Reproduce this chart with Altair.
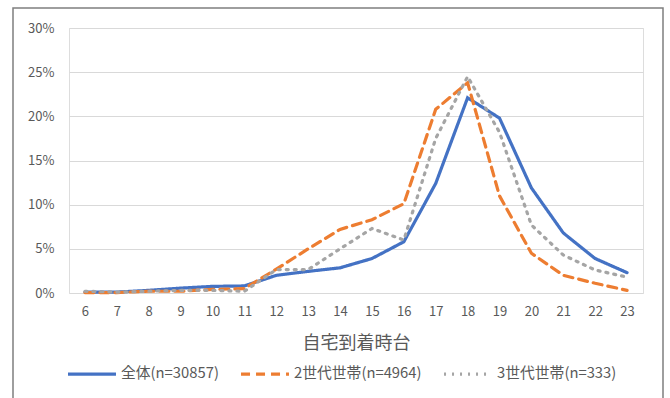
import altair as alt
import pandas as pd

hours = [6, 7, 8, 9, 10, 11, 12, 13, 14, 15, 16, 17, 18, 19, 20, 21, 22, 23]
series_names = ["全体(n=30857)", "2世代世帯(n=4964)", "3世代世帯(n=333)"]
all_households = [0.1, 0.1, 0.3, 0.55, 0.75, 0.8, 2.0, 2.45, 2.85, 3.9, 5.8, 12.4, 22.1, 19.8, 11.9, 6.8, 3.9, 2.3]
two_gen = [0.05, 0.05, 0.2, 0.2, 0.4, 0.5, 2.7, 5.0, 7.2, 8.3, 10.1, 20.8, 23.8, 11.0, 4.5, 2.0, 1.1, 0.3]
three_gen = [0.2, 0.1, 0.2, 0.3, 0.3, 0.2, 2.65, 2.65, 5.0, 7.3, 6.0, 17.5, 24.5, 18.2, 7.7, 4.3, 2.6, 1.8]
colors = ["#4472C4", "#ED7D31", "#A5A5A5"]
dashes = [[1, 0], [9, 6], [2, 6]]

rows = []
for name, vals in zip(series_names, [all_households, two_gen, three_gen]):
    for h, v in zip(hours, vals):
        rows.append({"hour": h, "value": v / 100.0, "series": name})
df = pd.DataFrame(rows)

font = "Noto Sans CJK JP"

lines = alt.Chart(df).mark_line(strokeWidth=3.2, strokeCap="round", clip=False).encode(
    x=alt.X("hour:O", title="自宅到着時台",
            scale=alt.Scale(type="point", padding=0.5),
            axis=alt.Axis(labelAngle=0, ticks=False, domain=False, grid=False,
                          labelPadding=12, titlePadding=16, labelFontSize=13,
                          titleFontSize=18, titleFontWeight="normal",
                          labelColor="#595959", titleColor="#595959",
                          labelFont=font, titleFont=font)),
    y=alt.Y("value:Q", title=None,
            scale=alt.Scale(domain=[0, 0.30], nice=False),
            axis=alt.Axis(format=".0%", values=[0, 0.05, 0.10, 0.15, 0.20, 0.25, 0.30],
                          ticks=False, domain=False, grid=True, gridColor="#D9D9D9",
                          gridWidth=1, labelPadding=15, labelFontSize=13,
                          labelColor="#595959", labelFont=font)),
    color=alt.Color("series:N", sort=series_names,
                    scale=alt.Scale(domain=series_names, range=colors),
                    legend=alt.Legend(title=None, orient="none", direction="horizontal",
                                      legendX=-3, legendY=320,
                                      symbolType="stroke", symbolSize=2300,
                                      symbolStrokeWidth=3.2, labelFontSize=14.8,
                                      labelColor="#595959", labelFont=font,
                                      columnPadding=15, labelOffset=3)),
    strokeDash=alt.StrokeDash("series:N", sort=series_names,
                              scale=alt.Scale(domain=series_names, range=dashes),
                              legend=None),
    order=alt.Order("hour:Q"),
)

frame_df = pd.DataFrame({"k": [0]})
frame = alt.Chart(frame_df).mark_rect(fill=None, stroke="#7F7F7F", strokeWidth=1.5, clip=False).encode(
    x=alt.value(-56), x2=alt.value(594), y=alt.value(-20), y2=alt.value(380)
)

chart = alt.layer(frame, lines).properties(
    width=574, height=265,
    autosize=alt.AutoSizeParams(type="none"),
    padding={"left": 69, "top": 28, "right": 27, "bottom": 105},
).configure_view(stroke=None).configure(background="white")

chart.save("out.html", embed_options={"renderer": "svg", "actions": False})
